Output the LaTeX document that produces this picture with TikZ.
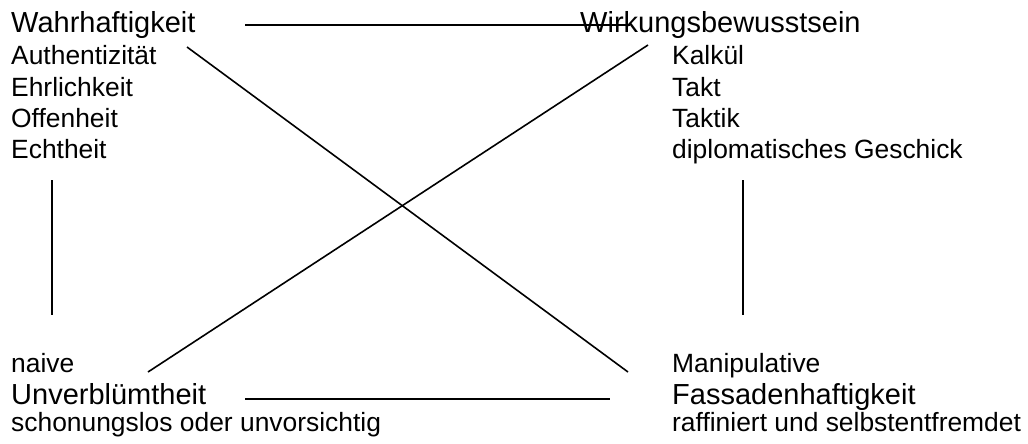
\documentclass[tikz,border=0pt]{standalone}
\usepackage{fontspec}
\setmainfont{Liberation Sans}
\begin{document}
\begin{tikzpicture}[x=1pt,y=-1pt,
  big/.style={anchor=base west,inner sep=0pt,font=\fontsize{29}{33}\selectfont},
  small/.style={anchor=base west,inner sep=0pt,font=\fontsize{26.4}{31}\selectfont},
  link/.style={line width=1.6pt,black}]
\useasboundingbox (0,0) rectangle (1028,444);
% top left
\node[big] (wahr) at (11,33) {Wahrhaftigkeit};
\node[small] (auth) at (11,65) {Authentizität};
\node[small] (ehrl) at (11,96) {Ehrlichkeit};
\node[small] (offen) at (11,127) {Offenheit};
\node[small] (echt) at (11,158) {Echtheit};
% top right
\node[big] (wirk) at (580,33) {Wirkungsbewusstsein};
\node[small] (kalk) at (672,65) {Kalkül};
\node[small] (takt) at (672,96) {Takt};
\node[small] (taktik) at (672,127) {Taktik};
\node[small] (dipl) at (672,158) {diplomatisches Geschick};
% bottom left
\node[small] (naive) at (11,372) {naive};
\node[big] (unverb) at (11,404) {Unverblümtheit};
\node[small] (schon) at (11,431) {schonungslos oder unvorsichtig};
% bottom right
\node[small] (mani) at (672,372) {Manipulative};
\node[big] (fass) at (672,404) {Fassadenhaftigkeit};
\node[small] (raff) at (672,431) {raffiniert und selbstentfremdet};
% connector ends
\coordinate (tl) at (245,25);
\coordinate (tr) at (630,25);
\coordinate (bl) at (245,399);
\coordinate (br) at (610,399);
\coordinate (d1a) at (187,47);
\coordinate (d1b) at (628,372);
\coordinate (d2a) at (648,45);
\coordinate (d2b) at (148,372);
\coordinate (vla) at (52,180);
\coordinate (vlb) at (52,315);
\coordinate (vra) at (743,180);
\coordinate (vrb) at (743,315);
\draw[link] (tl) -- (tr);
\draw[link] (bl) -- (br);
\draw[link] (d1a) -- (d1b);
\draw[link] (d2a) -- (d2b);
\draw[link] (vla) -- (vlb);
\draw[link] (vra) -- (vrb);
\end{tikzpicture}
\end{document}
